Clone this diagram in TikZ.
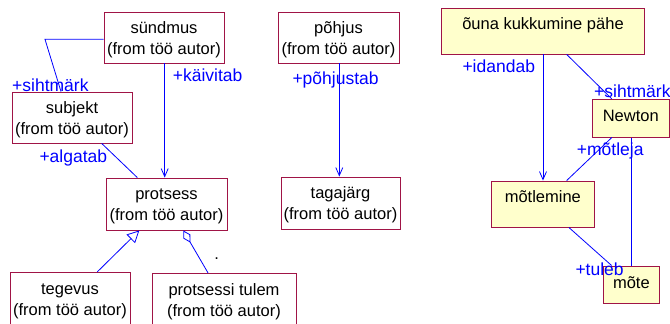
\documentclass[tikz,border=0pt]{standalone}
\usepackage{fontspec}
\setmainfont{Liberation Sans}
\usetikzlibrary{arrows.meta}
\definecolor{boxline}{RGB}{160,20,70}
\definecolor{linkblue}{RGB}{0,0,255}
\definecolor{notefill}{RGB}{255,255,204}
% two-line class label: name over package origin
\newcommand\classtext[1]{\rule{0pt}{16pt}#1\\(from töö autor)}
\begin{document}
\begin{tikzpicture}[x=1pt,y=-1pt,
  cls/.style={draw=boxline, line width=0.9pt, fill=white, inner sep=0pt,
    align=center, font=\fontsize{16.5}{21}\selectfont},
  obj/.style={draw=boxline, line width=0.9pt, fill=notefill, inner sep=0pt,
    font=\fontsize{16.5}{21}\selectfont},
  link/.style={draw=linkblue, line width=0.8pt},
  nav/.style={link, -{Straight Barb[length=8pt,width=7pt]}},
  gen/.style={link, -{Triangle[open,length=12pt,width=12pt,fill=white]}},
  agg/.style={link, {Diamond[open,length=14pt,width=8pt,fill=white]}-},
  lbl/.style={text=linkblue, inner sep=0pt, anchor=base west,
    font=\fontsize{17.5}{21}\selectfont}]
\useasboundingbox (0,0) rectangle (670,324);
\clip (0,0) rectangle (670,324);

% class boxes
\node[cls, minimum width=120pt, minimum height=51pt] (sundmus) at (164,37.5) {\classtext{sündmus}};
\node[cls, minimum width=120pt, minimum height=51pt] (subjekt) at (72,117.5) {\classtext{subjekt}};
\node[cls, minimum width=121pt, minimum height=52pt] (protsess) at (166.5,204) {\classtext{protsess}};
\node[cls, minimum width=120pt, minimum height=52pt] (tegevus) at (70,298.3) {\classtext{tegevus}};
\node[cls, minimum width=144pt, minimum height=52pt] (tulem) at (224,299.3) {\classtext{protsessi tulem}};
\node[cls, minimum width=121pt, minimum height=51pt] (pohjus) at (338.5,37.5) {\classtext{põhjus}};
\node[cls, minimum width=119pt, minimum height=52pt] (tagajarg) at (340.5,203) {\classtext{tagajärg}};

% object boxes, text set near the top edge
\node[obj, minimum width=202.6pt, text height=21pt, text depth=25pt] (ouna) at (543,31) {õuna kukkumine pähe};
\node[obj, minimum width=103.7pt, text height=21.7pt, text depth=24.3pt] (motlemine) at (542.85,204) {mõtlemine};
\node[obj, minimum width=77pt, text height=22.4pt, text depth=15.3pt] (newton) at (630.8,118.2) {Newton};
\node[obj, minimum width=56.7pt, text height=22.3pt, text depth=15pt] (mote) at (631.35,284.65) {mõte};

% associations between classes
\coordinate (bend) at (45,39.3);
\draw[link] ([yshift=-1.8pt]sundmus.west) -- (bend) -- ([xshift=-11pt]subjekt.north);
\draw[nav] ([xshift=0.7pt]sundmus.south) -- ([xshift=0.7pt]sundmus.south |- protsess.north);
\draw[link] ([xshift=29.7pt]subjekt.south) -- ([xshift=-29.2pt]protsess.north);
\draw[gen] ([xshift=27.3pt]tegevus.north) -- ([xshift=-27.2pt]protsess.south);
\draw[agg] ([xshift=16.8pt]protsess.south) -- ([xshift=-16pt]tulem.north);
\draw[nav] ([xshift=0.8pt]pohjus.south) -- ([xshift=0.8pt]pohjus.south |- tagajarg.north);

% links between objects
\draw[nav] (ouna.south) -- (ouna.south |- motlemine.north);
\draw[link] ([xshift=23.7pt]ouna.south) -- ([xshift=-19pt]newton.north);
\draw[link] ([xshift=-19pt]newton.south) -- ([xshift=23.8pt]motlemine.north);
\draw[link] ([xshift=0.9pt]newton.south) -- ([xshift=0.9pt]newton.south |- mote.north);
\draw[link] ([xshift=26pt]motlemine.south) -- ([xshift=-19.7pt]mote.north);

% role names
\node[lbl] (r1) at (12,91.5) {+sihtmärk};
\node[lbl] (r2) at (172.7,81) {+käivitab};
\node[lbl] (r3) at (39.3,162.5) {+algatab};
\node[lbl] (r4) at (292.3,84.5) {+põhjustab};
\node[lbl] (r5) at (462.3,72.7) {+idandab};
\node[lbl] (r6) at (594,97.3) {+sihtmärk};
\node[lbl] (r7) at (576.7,155) {+mõtleja};
\node[lbl] (r8) at (575.3,275.7) {+tuleb};
\node[inner sep=0pt, font=\fontsize{16.5}{21}\selectfont] (mult) at (216.7,259) {.};
\end{tikzpicture}
\end{document}
